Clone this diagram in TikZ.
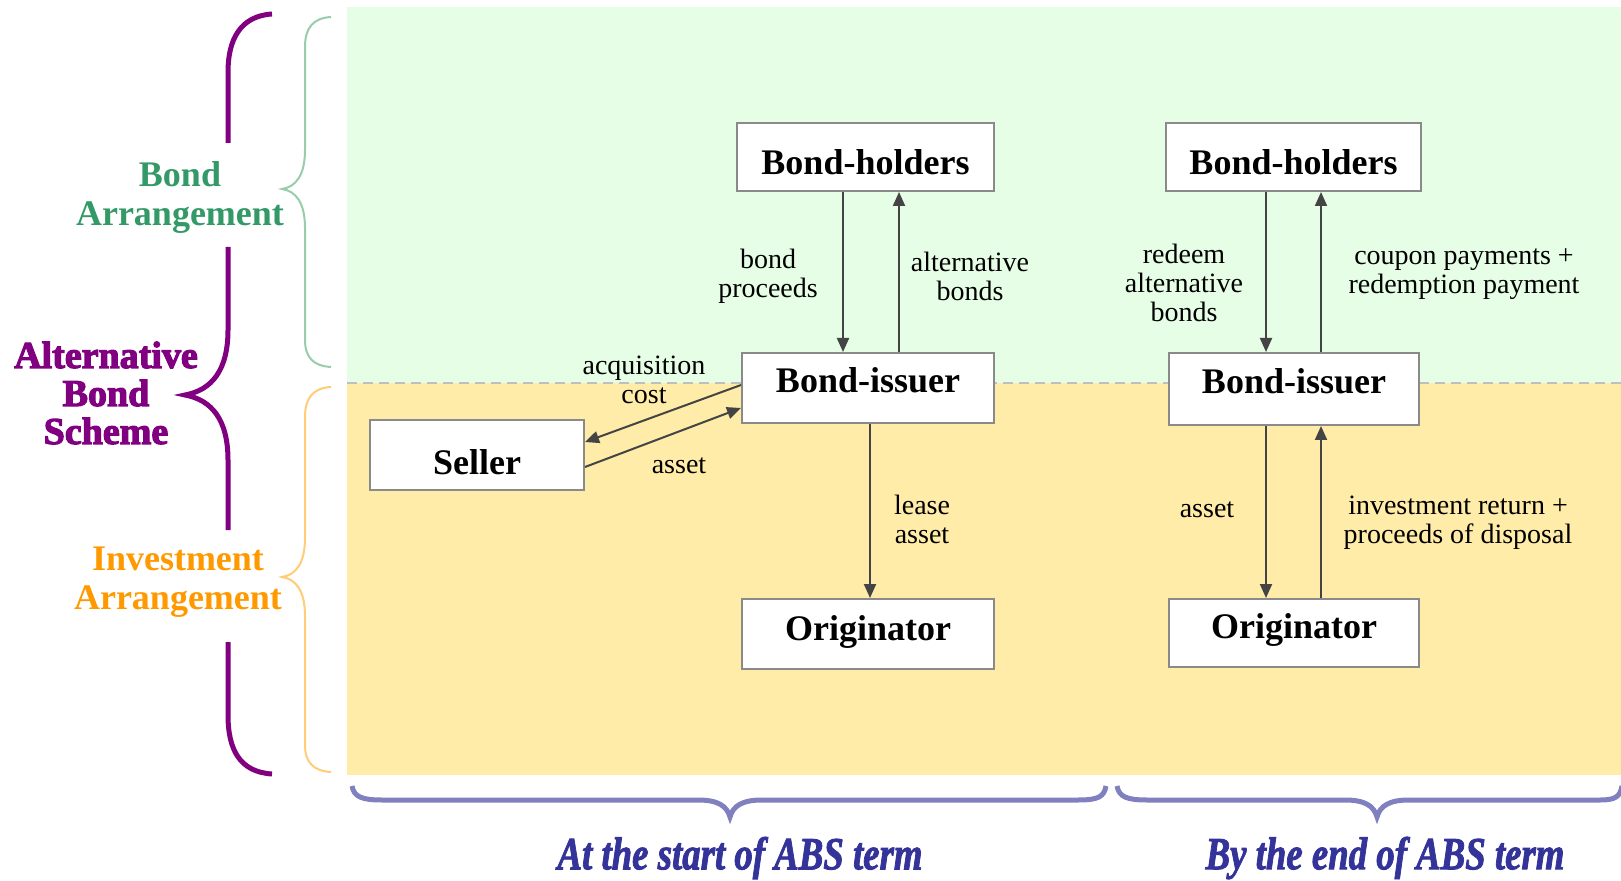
\documentclass[tikz,border=0pt]{standalone}
\usepackage{fontspec}
\usepackage{graphicx}
\setmainfont{Liberation Serif}
\newfontfamily\heavyfont[BoldFeatures={FakeBold=3}]{Liberation Serif}
\newfontfamily\botfont[BoldItalicFeatures={FakeBold=2}]{Liberation Serif}
\usetikzlibrary{arrows.meta}
\definecolor{bggreen}{HTML}{E6FEE6}
\definecolor{bgyellow}{HTML}{FFECA8}
\definecolor{boxgray}{HTML}{8A8A8A}
\definecolor{arrgray}{HTML}{444444}
\definecolor{txtgreen}{HTML}{339966}
\definecolor{brgreen}{HTML}{99CCAA}
\definecolor{txtorange}{HTML}{FF9900}
\definecolor{brorange}{HTML}{FFCC77}
\definecolor{purp}{HTML}{800080}
\definecolor{txtblue}{HTML}{333399}
\definecolor{brblue}{HTML}{8080C0}
\begin{document}
\begin{tikzpicture}[x=0.5pt,y=-0.5pt,
  box/.style={draw=boxgray, fill=white, line width=1pt, inner sep=0pt, text depth=0pt,
    font=\fontsize{18}{20}\selectfont\bfseries},
  lbl/.style={font=\fontsize{14}{14.5}\selectfont, align=center, inner sep=0pt},
  arr/.style={draw=arrgray, line width=1pt, -{Triangle[length=7pt,width=6pt]}},
  side/.style={font=\fontsize{18}{19.5}\selectfont\bfseries, align=center, inner sep=0pt},
  bot/.style={text=txtblue, inner sep=0pt, font=\fontsize{23}{26}\selectfont\botfont\bfseries\itshape},
  brpurp/.style={draw=purp, line width=2.5pt},
  brace/.style={line width=1pt}
]
\useasboundingbox (0,0) rectangle (1621,881);
% backgrounds
\fill[bggreen] (347,7) rectangle (1621,383);
\fill[bgyellow] (347,383) rectangle (1621,775);
\draw[draw=black!25, line width=0.8pt, dash pattern=on 5pt off 3pt] (347,383) -- (1621,383);

% boxes
\node[box, minimum width=128.5pt, minimum height=34pt, text height=18pt] (bhL) at (865.5,157) {Bond-holders};
\node[box, minimum width=126pt, minimum height=35pt, text height=5pt] (biL) at (868,388) {Bond-issuer};
\node[box, minimum width=107pt, minimum height=35pt, text height=19pt] (seller) at (477,455) {Seller};
\node[box, minimum width=126pt, minimum height=35pt, text height=6pt] (origL) at (868,634) {Originator};
\node[box, minimum width=127.5pt, minimum height=34pt, text height=18pt] (bhR) at (1293.5,157) {Bond-holders};
\node[box, minimum width=125pt, minimum height=36pt, text height=5pt] (biR) at (1294,389) {Bond-issuer};
\node[box, minimum width=125pt, minimum height=34pt, text height=5pt] (origR) at (1294,633) {Originator};

% x positions of vertical connectors
\coordinate (xa) at (843,0);
\coordinate (xb) at (899,0);
\coordinate (xc) at (870,0);
\coordinate (xd) at (1266,0);
\coordinate (xe) at (1321,0);

\draw[arr] (bhL.south -| xa) -- (biL.north -| xa);
\draw[arr] (biL.north -| xb) -- (bhL.south -| xb);
\draw[arr] (biL.south -| xc) -- (origL.north -| xc);
\draw[arr] ([yshift=1.5pt]biL.west) -- ([yshift=6.5pt]seller.east);
\draw[arr] ([yshift=-6pt]seller.east) -- ([yshift=-10pt]biL.west);
\draw[arr] (bhR.south -| xd) -- (biR.north -| xd);
\draw[arr] (biR.north -| xe) -- (bhR.south -| xe);
\draw[arr] (biR.south -| xd) -- (origR.north -| xd);
\draw[arr] (origR.north -| xe) -- (biR.south -| xe);

% labels
\node[lbl] (l1) at (768,276) {bond\\proceeds};
\node[lbl] (l2) at (970,276) {alternative\\bonds};
\node[lbl] (l3) at (644,380) {acquisition\\cost};
\node[lbl] (l4) at (679,466) {asset};
\node[lbl] (l5) at (922,519) {lease\\asset};
\node[lbl] (l6) at (1184,283) {redeem\\alternative\\bonds};
\node[lbl] (l7) at (1464,274) {coupon payments +\\redemption payment};
\node[lbl] (l8) at (1207,510) {asset};
\node[lbl] (l9) at (1458,523) {investment return +\\proceeds of disposal};

% left braces
\draw[brpurp] (272,14) .. controls (240,16) and (228,40) .. (228,72) -- (228,143);
\draw[brpurp] (228,247) -- (228,330) .. controls (228,370) and (212,390) .. (185,395)
   .. controls (212,400) and (228,420) .. (228,460) -- (228,530);
\draw[brpurp] (228,642) -- (228,715) .. controls (228,750) and (240,772) .. (272,774);

\draw[brace, draw=brgreen] (331,17) .. controls (313,18) and (305,28) .. (305,47) -- (305,150)
   .. controls (305,175) and (296,187) .. (282,189) .. controls (296,191) and (305,203) .. (305,228)
   -- (305,340) .. controls (305,357) and (313,366) .. (331,367);
\draw[brace, draw=brorange] (331,387) .. controls (313,388) and (305,398) .. (305,417) -- (305,538)
   .. controls (305,563) and (296,575) .. (282,577) .. controls (296,579) and (305,591) .. (305,616)
   -- (305,745) .. controls (305,762) and (313,771) .. (331,772);

\node[side, text=txtgreen] (ba) at (180,197) {Bond\\Arrangement};
\node[side, text=txtorange] (ia) at (178,582) {Investment\\Arrangement};
\node[inner sep=0pt, align=center, text=purp, font=\fontsize{19}{19}\selectfont\heavyfont\bfseries] (abs) at (106,393) {Alternative\\Bond\\Scheme};

% bottom braces
\draw[draw=brblue, line width=2.5pt] (352,786) .. controls (354,797) and (362,800) .. (382,800) -- (698,800)
   .. controls (718,800) and (727,806) .. (730,817) .. controls (733,806) and (742,800) .. (762,800)
   -- (1078,800) .. controls (1098,800) and (1104,797) .. (1106,786);
\draw[draw=brblue, line width=2.5pt] (1117,786) .. controls (1119,797) and (1127,800) .. (1147,800) -- (1345,800)
   .. controls (1365,800) and (1374,806) .. (1377,817) .. controls (1380,806) and (1389,800) .. (1409,800)
   -- (1600,800) .. controls (1615,800) and (1620,797) .. (1622,786);

\node[bot] (t1) at (740,858) {\scalebox{0.8}[1]{At the start of ABS term}};
\node[bot] (t2) at (1385,858) {\scalebox{0.8}[1]{By the end of ABS term}};
\end{tikzpicture}
\end{document}
